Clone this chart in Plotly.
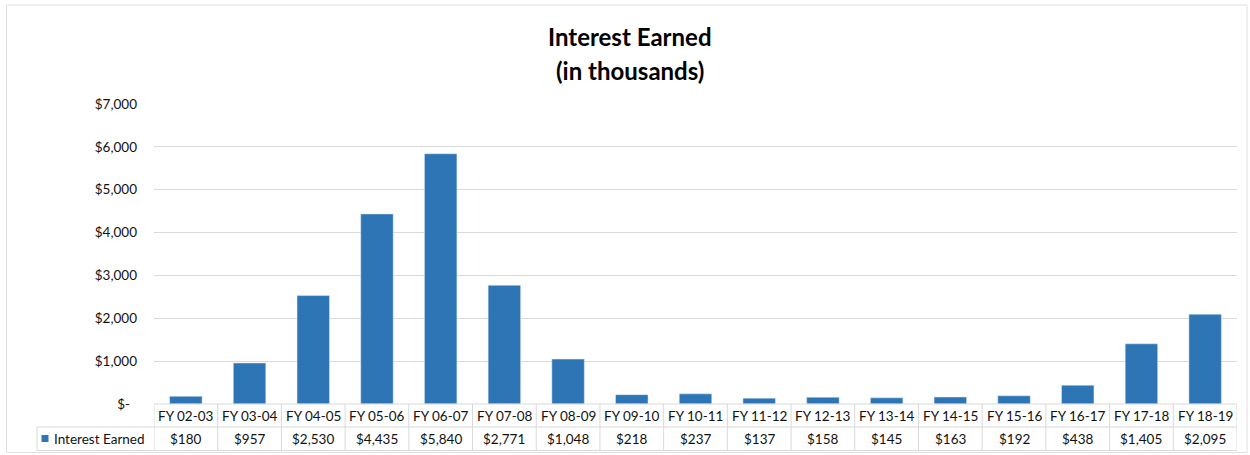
import plotly.graph_objects as go

categories = ["FY 02-03", "FY 03-04", "FY 04-05", "FY 05-06", "FY 06-07", "FY 07-08",
              "FY 08-09", "FY 09-10", "FY 10-11", "FY 11-12", "FY 12-13", "FY 13-14",
              "FY 14-15", "FY 15-16", "FY 16-17", "FY 17-18", "FY 18-19"]
values = [180, 957, 2530, 4435, 5840, 2771, 1048, 218, 237, 137, 158, 145, 163, 192, 438, 1405, 2095]
series_name = "Interest Earned"
tick_vals = [0, 1000, 2000, 3000, 4000, 5000, 6000, 7000]
tick_text = ["$-\u00a0\u00a0", "$1,000", "$2,000", "$3,000", "$4,000", "$5,000", "$6,000", "$7,000"]

W, H = 1250, 455
L, R, T, B = 154, 1237, 104, 404
PW, PH = R - L, B - T

def px(x):
    return (x - L) / PW

def py(y):
    return (B - y) / PH

BLUE = "#2E75B6"
GRID = "#D9D9D9"
TXT = "#111111"
FONT = "Lato"
TS = 13.5

fig = go.Figure()
fig.add_trace(go.Bar(x=list(range(len(categories))), y=values, name=series_name,
                     marker_color=BLUE, width=0.51, showlegend=False,
                     hovertext=categories))

shapes = []
annotations = []
n = len(categories)
row1_top, row1_bot, row2_bot = py(404), py(427), py(450.5)

shapes.append(dict(type="line", xref="x", yref="paper", x0=-0.5, x1=n - 0.5, y0=row1_top, y1=row1_top,
                   line=dict(color=GRID, width=1)))
shapes.append(dict(type="line", xref="paper", yref="paper", x0=px(37), x1=1, y0=row1_bot, y1=row1_bot,
                   line=dict(color=GRID, width=1)))
shapes.append(dict(type="line", xref="paper", yref="paper", x0=px(37), x1=1, y0=row2_bot, y1=row2_bot,
                   line=dict(color=GRID, width=1)))
for i in range(n + 1):
    shapes.append(dict(type="line", xref="x", yref="paper", x0=i - 0.5, x1=i - 0.5, y0=row1_top, y1=row2_bot,
                       line=dict(color=GRID, width=1)))
shapes.append(dict(type="line", xref="paper", yref="paper", x0=px(37), x1=px(37), y0=row1_bot, y1=row2_bot,
                   line=dict(color=GRID, width=1)))
shapes.append(dict(type="rect", xref="paper", yref="paper", x0=px(41.5), x1=px(48.5),
                   y0=py(442), y1=py(435), fillcolor=BLUE, line=dict(width=0)))
shapes.append(dict(type="rect", xref="paper", yref="paper", x0=px(6.5), x1=px(1247), y0=py(5), y1=py(452.5),
                   line=dict(color="#E0E0E0", width=1), layer="below"))

for i, (c, v) in enumerate(zip(categories, values)):
    annotations.append(dict(x=i, y=(row1_top + row1_bot) / 2, xref="x", yref="paper", text=c,
                            yanchor="middle", xanchor="center",
                            showarrow=False, font=dict(family=FONT, size=TS, color=TXT)))
    annotations.append(dict(x=i, y=(row1_bot + row2_bot) / 2, xref="x", yref="paper", text=f"${v:,}",
                            yanchor="middle", xanchor="center",
                            showarrow=False, font=dict(family=FONT, size=TS, color=TXT)))

annotations.append(dict(x=px(52), y=(row1_bot + row2_bot) / 2, xref="paper", yref="paper", text=series_name,
                        xanchor="left", yanchor="middle", showarrow=False,
                        font=dict(family=FONT, size=TS, color=TXT)))

annotations.append(dict(x=px(630), y=py(37), xref="paper", yref="paper", text="<b>Interest Earned</b>",
                        yanchor="middle", showarrow=False, font=dict(family=FONT, size=24, color="#000000")))
annotations.append(dict(x=px(630), y=py(70), xref="paper", yref="paper", text="<b>(in thousands)</b>",
                        yanchor="middle", showarrow=False, font=dict(family=FONT, size=24, color="#000000")))

fig.update_layout(
    width=W, height=H,
    margin=dict(l=L, r=W - R, t=T, b=H - B, pad=0),
    paper_bgcolor="white", plot_bgcolor="white",
    shapes=shapes, annotations=annotations,
    xaxis=dict(range=[-0.5, n - 0.5], showticklabels=False, showgrid=False, zeroline=False,
               showline=False, ticks=""),
    yaxis=dict(range=[0, 7000], tickvals=tick_vals, ticktext=tick_text, showgrid=True, gridcolor=GRID,
               gridwidth=1, zeroline=False, showline=False, ticks="", ticklabelstandoff=16,
               tickfont=dict(family=FONT, size=13.5, color=TXT)),
    font=dict(family=FONT, color=TXT),
)

fig.write_html("out.html", config={"displayModeBar": False},
               post_script="document.body.style.margin='0';document.body.style.overflow='hidden';")
